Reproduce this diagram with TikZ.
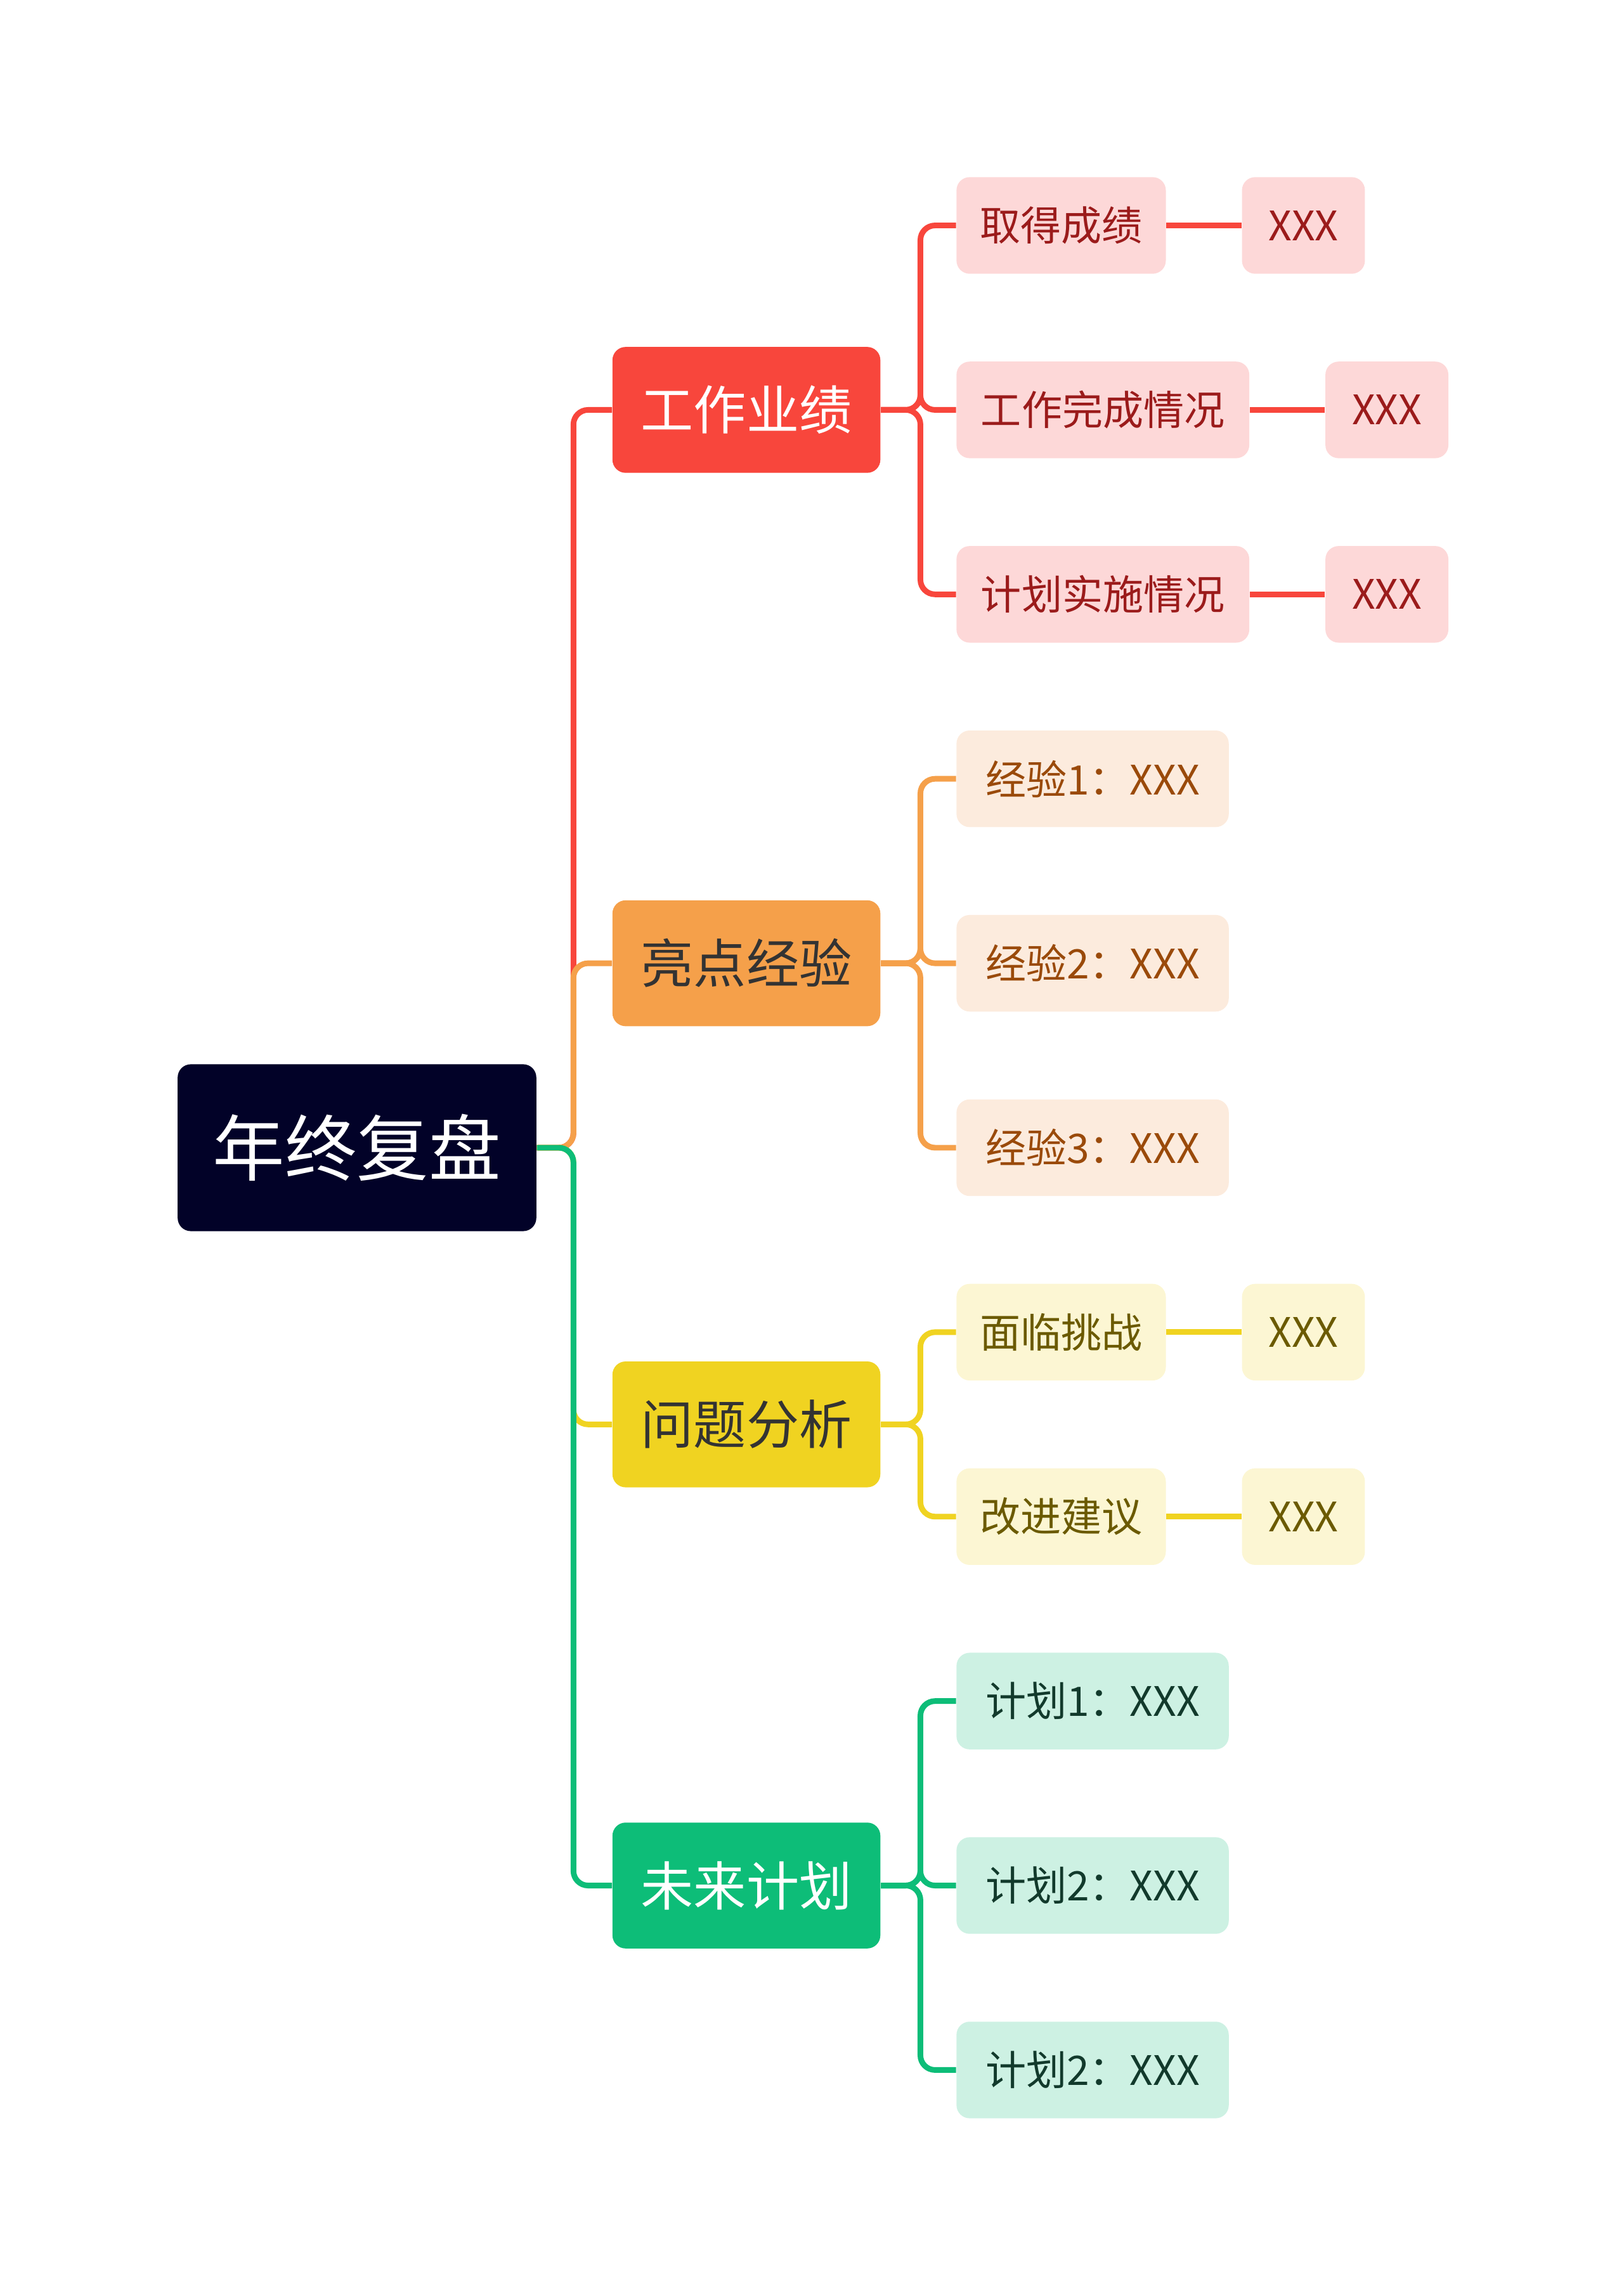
\documentclass[tikz,border=0pt]{standalone}
\usepackage{fontspec}
\newfontfamily\cjk{Noto Sans CJK SC}
\usetikzlibrary{positioning}
\definecolor{rootc}{HTML}{020228}
\definecolor{redc}{HTML}{F8463C}
\definecolor{orac}{HTML}{F5A04A}
\definecolor{yelc}{HTML}{F0D321}
\definecolor{grec}{HTML}{0DBD78}
\definecolor{redl}{HTML}{FDD8D8}
\definecolor{oral}{HTML}{FCEBDD}
\definecolor{yell}{HTML}{FCF6D3}
\definecolor{grel}{HTML}{CDF1E3}
\definecolor{redt}{HTML}{9B1B1B}
\definecolor{orat}{HTML}{9A4A0A}
\definecolor{yelt}{HTML}{6B5A00}
\definecolor{gret}{HTML}{123A2C}
\tikzset{
  box/.style={rectangle,rounded corners=0.18cm,inner sep=0pt,anchor=west,font=\cjk},
  top/.style={box,minimum width=183*0.02cm,minimum height=86*0.02cm,font=\cjk\fontsize{20.5}{24}\selectfont},
  leaf/.style={box,minimum height=66*0.02cm,font=\cjk\fontsize{15.8}{19}\selectfont},
  link/.style={line width=2.2pt,rounded corners=0.2cm},
}
\begin{document}
\begin{tikzpicture}[x=0.02cm,y=-0.02cm]
    \useasboundingbox (0,0) rectangle (1109,1565);
    % root
    \node[box,fill=rootc,text=white,minimum width=245*0.02cm,minimum height=114*0.02cm,font=\cjk\fontsize{28}{32}\selectfont] (root) at (121,784) {年终复盘};

    % main branches
    \node[top,fill=redc,text=white] (work) at (418,280) {工作业绩};
    \node[top,fill=orac,text=black!80] (exp) at (418,658) {亮点经验};
    \node[top,fill=yelc,text=black!80] (prob) at (418,973) {问题分析};
    \node[top,fill=grec,text=white] (plan) at (418,1288) {未来计划};

    \draw[link,redc] (root.east) -- ++(25,0) |- (work.west);
    \draw[link,orac] (root.east) -- ++(25,0) |- (exp.west);
    \draw[link,yelc] (root.east) -- ++(25,0) |- (prob.west);
    \draw[link,grec] (root.east) -- ++(25,0) |- (plan.west);

    % work
    \node[leaf,fill=redl,text=redt,minimum width=143*0.02cm] (w1) at (653,154) {取得成绩};
    \node[leaf,fill=redl,text=redt,minimum width=200*0.02cm] (w2) at (653,280) {工作完成情况};
    \node[leaf,fill=redl,text=redt,minimum width=200*0.02cm] (w3) at (653,406) {计划实施情况};
    \node[leaf,fill=redl,text=redt,minimum width=84*0.02cm] (w1x) at (848,154) {XXX};
    \node[leaf,fill=redl,text=redt,minimum width=84*0.02cm] (w2x) at (905,280) {XXX};
    \node[leaf,fill=redl,text=redt,minimum width=84*0.02cm] (w3x) at (905,406) {XXX};
    \foreach \n in {w1,w2,w3} {
      \draw[link,redc] (work.east) -- ++(27,0) |- (\n.west);
      \draw[link,redc] (\n.east) -- (\n x.west);
    }

    % experience
    \node[leaf,fill=oral,text=orat,minimum width=186*0.02cm] (e1) at (653,532) {经验1：XXX};
    \node[leaf,fill=oral,text=orat,minimum width=186*0.02cm] (e2) at (653,658) {经验2：XXX};
    \node[leaf,fill=oral,text=orat,minimum width=186*0.02cm] (e3) at (653,784) {经验3：XXX};
    \foreach \n in {e1,e2,e3}
      \draw[link,orac] (exp.east) -- ++(27,0) |- (\n.west);

    % problems
    \node[leaf,fill=yell,text=yelt,minimum width=143*0.02cm] (p1) at (653,910) {面临挑战};
    \node[leaf,fill=yell,text=yelt,minimum width=143*0.02cm] (p2) at (653,1036) {改进建议};
    \node[leaf,fill=yell,text=yelt,minimum width=84*0.02cm] (p1x) at (848,910) {XXX};
    \node[leaf,fill=yell,text=yelt,minimum width=84*0.02cm] (p2x) at (848,1036) {XXX};
    \foreach \n in {p1,p2} {
      \draw[link,yelc] (prob.east) -- ++(27,0) |- (\n.west);
      \draw[link,yelc] (\n.east) -- (\n x.west);
    }

    % plans
    \node[leaf,fill=grel,text=gret,minimum width=186*0.02cm] (f1) at (653,1162) {计划1：XXX};
    \node[leaf,fill=grel,text=gret,minimum width=186*0.02cm] (f2) at (653,1288) {计划2：XXX};
    \node[leaf,fill=grel,text=gret,minimum width=186*0.02cm] (f3) at (653,1414) {计划2：XXX};
    \foreach \n in {f1,f2,f3}
      \draw[link,grec] (plan.east) -- ++(27,0) |- (\n.west);
\end{tikzpicture}
\end{document}
